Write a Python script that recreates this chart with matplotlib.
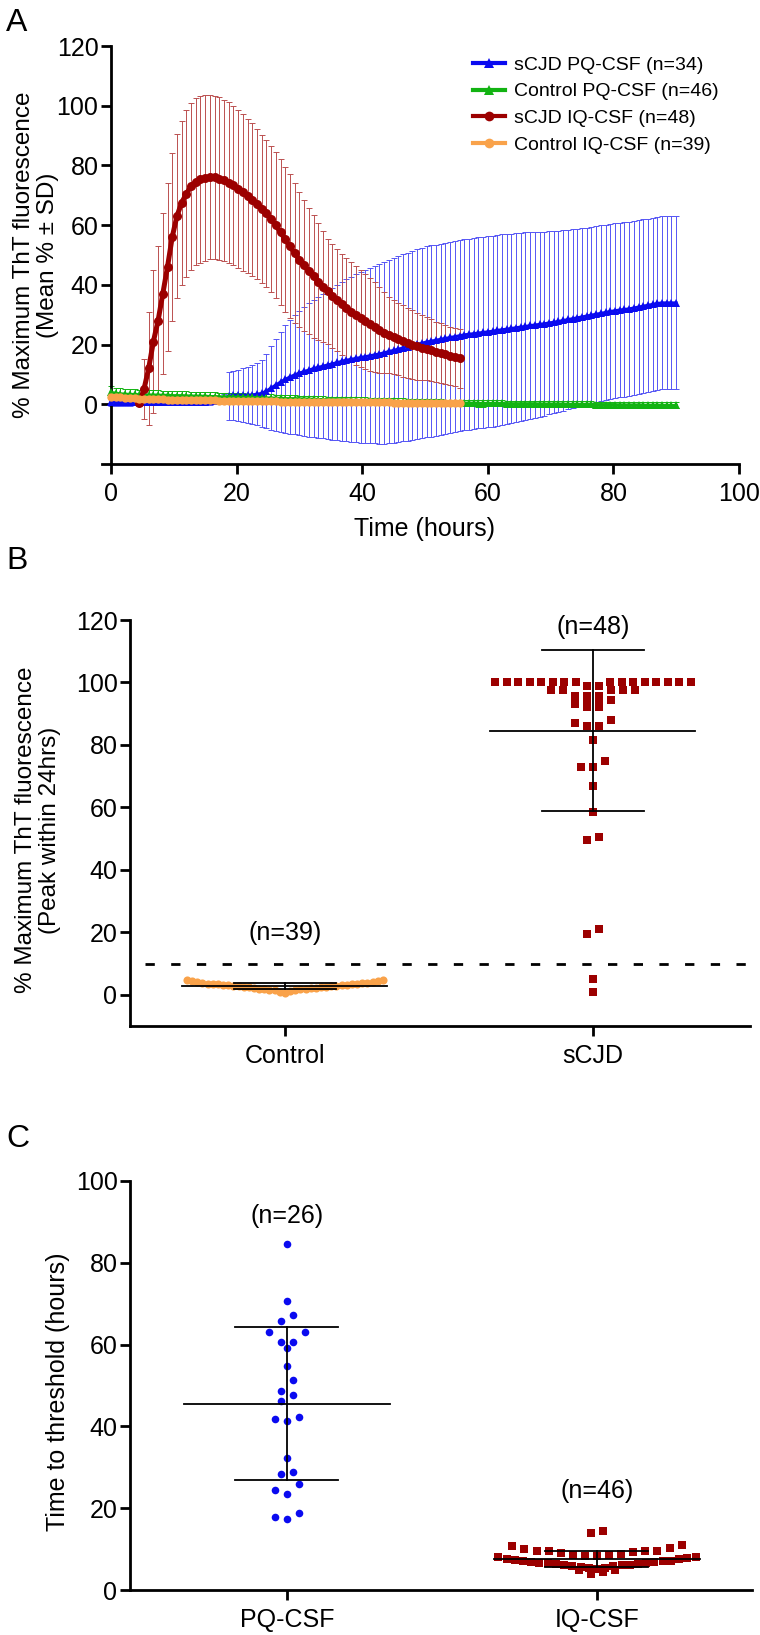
import numpy as np
import matplotlib
matplotlib.use('Agg')
import matplotlib.pyplot as plt
from matplotlib.lines import Line2D

plt.rcParams['font.family'] = ['Liberation Sans', 'DejaVu Sans']

# ---------------- DATA ----------------
# Panel A: readings every 0.75 h
read_interval_h = 0.75
scjd_iq_start_h = 4.5

scjd_pq_mean = [
    0.8, 0.8, 0.7, 0.7, 0.7, 0.7, 0.6, 0.6, 0.6, 0.6,
    0.6, 0.6, 0.6, 0.6, 0.6, 0.7, 0.7, 0.7, 0.8, 0.8,
    0.9, 1.0, 1.2, 1.5, 1.9, 2.8, 3.0, 3.0, 3.0, 3.1,
    3.2, 3.4, 3.7, 4.5, 5.5, 6.5, 7.5, 8.4, 9.2, 9.9,
    10.5, 11.0, 11.5, 12.0, 12.4, 12.8, 13.2, 13.6, 14.0, 14.4,
    14.8, 15.1, 15.4, 15.7, 16.0, 16.3, 16.6, 16.9, 17.3, 17.7,
    18.1, 18.5, 18.9, 19.3, 19.7, 20.1, 20.5, 20.9, 21.2, 21.5,
    21.8, 22.1, 22.4, 22.7, 23.0, 23.3, 23.5, 23.7, 23.9, 24.1,
    24.3, 24.5, 24.8, 25.0, 25.2, 25.4, 25.7, 25.9, 26.1, 26.4,
    26.6, 26.8, 27.0, 27.3, 27.5, 27.8, 28.1, 28.4, 28.7, 29.0,
    29.3, 29.6, 29.9, 30.2, 30.5, 30.8, 31.1, 31.4, 31.6, 31.8,
    32.0, 32.3, 32.6, 32.9, 33.2, 33.5, 33.8, 34.0, 34.0, 34.0,
    34.0]
scjd_pq_sd = [
    1.5, 1.4, 1.3, 1.2, 1.2, 1.1, 1.1, 1.0, 1.0, 1.0,
    1.0, 1.0, 1.0, 1.0, 1.0, 1.0, 1.0, 1.0, 1.0, 1.0,
    1.0, 1.1, 1.2, 1.3, 1.5, 8.0, 8.3, 8.6, 9.0, 9.4,
    9.8, 10.4, 11.2, 12.5, 14.0, 15.5, 16.8, 18.0, 19.0, 20.0,
    20.8, 21.6, 22.3, 23.0, 23.6, 24.2, 24.8, 25.4, 26.0, 26.6,
    27.1, 27.6, 28.1, 28.5, 28.9, 29.3, 29.7, 30.2, 30.5, 30.7,
    30.9, 31.1, 31.3, 31.5, 31.7, 31.8, 31.9, 32.0, 32.0, 32.0,
    32.0, 32.0, 32.0, 32.0, 32.0, 32.0, 32.0, 32.0, 32.0, 32.0,
    32.0, 32.0, 32.0, 32.0, 31.9, 31.8, 31.7, 31.6, 31.5, 31.3,
    31.1, 30.9, 30.8, 30.6, 30.5, 30.3, 30.2, 30.0, 29.9, 29.8,
    29.7, 29.6, 29.6, 29.5, 29.4, 29.4, 29.3, 29.3, 29.2, 29.2,
    29.1, 29.1, 29.1, 29.0, 29.0, 29.0, 29.0, 29.0, 29.0, 29.0,
    29.0]
ctrl_pq_mean = [
    4.0, 3.7, 3.5, 3.4, 3.3, 3.3, 3.2, 3.2, 3.1, 3.1,
    3.1, 3.0, 3.0, 2.9, 2.9, 2.9, 2.8, 2.8, 2.7, 2.7,
    2.7, 2.6, 2.6, 2.5, 2.5, 2.5, 2.4, 2.4, 2.4, 2.3,
    2.3, 2.2, 2.2, 2.1, 2.1, 2.0, 2.0, 1.9, 1.9, 1.9,
    1.8, 1.8, 1.7, 1.7, 1.6, 1.6, 1.5, 1.5, 1.5, 1.4,
    1.4, 1.3, 1.3, 1.2, 1.2, 1.1, 1.1, 1.1, 1.0, 1.0,
    1.0, 0.9, 0.9, 0.8, 0.8, 0.8, 0.7, 0.7, 0.7, 0.6,
    0.6, 0.5, 0.5, 0.5, 0.4, 0.4, 0.4, 0.4, 0.3, 0.3,
    0.3, 0.3, 0.3, 0.3, 0.2, 0.2, 0.2, 0.2, 0.2, 0.2,
    0.2, 0.1, 0.1, 0.1, 0.1, 0.1, 0.1, 0.0, 0.0, 0.0,
    0.0, 0.0, 0.0, -0.1, -0.1, -0.1, -0.1, -0.1, -0.2, -0.2,
    -0.2, -0.2, -0.2, -0.3, -0.3, -0.3, -0.3, -0.3, -0.4, -0.4,
    -0.4]
ctrl_pq_sd = [
    2.0, 1.9, 1.8, 1.8, 1.7, 1.7, 1.7, 1.6, 1.6, 1.6,
    1.6, 1.5, 1.5, 1.5, 1.5, 1.5, 1.5, 1.4, 1.4, 1.4,
    1.4, 1.4, 1.4, 1.4, 1.3, 1.3, 1.3, 1.3, 1.3, 1.3,
    1.3, 1.2, 1.2, 1.2, 1.2, 1.2, 1.2, 1.2, 1.2, 1.2,
    1.1, 1.1, 1.1, 1.1, 1.1, 1.1, 1.1, 1.1, 1.1, 1.1,
    1.1, 1.1, 1.1, 1.1, 1.1, 1.1, 1.1, 1.1, 1.1, 1.1,
    1.1, 1.1, 1.1, 1.1, 1.1, 1.1, 1.1, 1.1, 1.1, 1.1,
    1.1, 1.1, 1.1, 1.1, 1.1, 1.1, 1.1, 1.1, 1.1, 1.1,
    1.0, 1.0, 1.0, 1.0, 1.0, 1.0, 1.0, 1.0, 1.0, 1.0,
    1.0, 1.0, 1.0, 1.0, 1.0, 1.0, 1.0, 1.0, 1.0, 1.0,
    1.0, 1.0, 1.0, 1.0, 1.0, 1.0, 1.0, 1.0, 1.0, 1.0,
    1.0, 1.0, 1.0, 1.0, 1.0, 1.0, 1.0, 1.0, 1.0, 1.0,
    1.0]
scjd_iq_mean = [
    0.5, 5.0, 12.0, 21.0, 28.0, 37.0, 46.0, 56.0, 63.0, 67.5,
    70.5, 73.0, 74.5, 75.3, 75.8, 76.1, 76.0, 75.6, 75.0, 74.2,
    73.3, 72.2, 71.0, 69.8, 68.5, 67.0, 65.4, 63.9, 62.0, 60.0,
    57.6, 55.2, 53.0, 50.6, 48.4, 46.5, 44.6, 42.8, 41.0, 39.4,
    37.8, 36.3, 34.8, 33.5, 32.2, 31.0, 29.8, 28.8, 27.8, 26.8,
    25.8, 24.9, 24.0, 23.2, 22.4, 21.8, 21.2, 20.6, 20.0, 19.5,
    19.0, 18.6, 18.1, 17.6, 17.1, 16.7, 16.2, 15.8, 15.4]
scjd_iq_sd = [
    1.0, 10.0, 19.0, 24.0, 25.0, 27.0, 28.0, 28.0, 27.5, 27.5,
    28.0, 28.0, 28.0, 28.0, 27.7, 27.5, 27.3, 27.2, 27.0, 26.9,
    26.7, 26.5, 26.2, 25.9, 25.6, 25.2, 24.9, 24.6, 24.5, 24.5,
    24.4, 24.3, 24.2, 23.5, 22.6, 21.8, 21.2, 20.6, 19.6, 18.5,
    17.6, 17.3, 17.1, 17.0, 16.9, 16.7, 16.5, 16.3, 16.0, 15.6,
    15.0, 14.3, 13.6, 12.8, 12.4, 12.1, 11.9, 11.7, 11.5, 11.2,
    10.9, 10.6, 10.3, 10.1, 10.0, 9.9, 9.8, 9.8, 9.8]
ctrl_iq_mean = [
    2.6, 2.4, 2.3, 2.2, 2.1, 2.0, 1.9, 1.9, 1.8, 1.8,
    1.7, 1.7, 1.6, 1.6, 1.5, 1.5, 1.5, 1.4, 1.4, 1.4,
    1.3, 1.3, 1.3, 1.2, 1.2, 1.2, 1.2, 1.1, 1.1, 1.1,
    1.1, 1.0, 1.0, 1.0, 1.0, 1.0, 0.9, 0.9, 0.9, 0.9,
    0.9, 0.8, 0.8, 0.8, 0.8, 0.8, 0.8, 0.7, 0.7, 0.7,
    0.7, 0.7, 0.7, 0.6, 0.6, 0.6, 0.6, 0.6, 0.6, 0.6,
    0.5, 0.5, 0.5, 0.5, 0.5, 0.5, 0.5, 0.5, 0.4, 0.4,
    0.4, 0.4, 0.4, 0.4, 0.4]

legend_labels = ['sCJD PQ-CSF (n=34)', 'Control PQ-CSF (n=46)',
                 'sCJD IQ-CSF (n=48)', 'Control IQ-CSF (n=39)']

# Panel B: peak within 24 h
b_categories = ['Control', 'sCJD']
b_control = [0.5, 1.0, 1.2, 1.4, 1.5, 1.6, 1.7, 1.8, 1.9, 2.0,
             2.1, 2.2, 2.3, 2.4, 2.5, 2.5, 2.6, 2.7, 2.7, 2.8,
             2.9, 3.0, 3.0, 3.1, 3.2, 3.3, 3.3, 3.4, 3.5, 3.6,
             3.7, 3.8, 3.9, 4.0, 4.1, 4.3, 4.4, 4.6, 4.8]
b_scjd = [100, 100, 100, 100, 100, 100, 100, 100, 100, 100,
          100, 100, 100, 100, 100, 100, 99, 99, 97.5, 97.5,
          97.5, 97.5, 97.5, 95.7, 95.7, 95.7, 94.5, 93, 93, 93,
          92, 92, 88, 87, 86, 86, 81.5, 75, 73, 73,
          67, 58.5, 50.5, 49.5, 21, 19.5, 5, 1]
b_means = [2.8, 84.5]
b_sds = [0.95, 25.8]
b_n_labels = ['(n=39)', '(n=48)']
b_threshold = 10

# Panel C: time to threshold
c_categories = ['PQ-CSF', 'IQ-CSF']
c_pq = [84.5, 70.7, 67.2, 65.7, 63.2, 63.2, 60.7, 60.7, 59.2, 54.8,
        51.3, 48.7, 47.7, 46.3, 42.4, 41.7, 41.3, 32.3, 28.8, 28.3,
        25.8, 24.4, 23.4, 18.9, 17.8, 17.4]
c_iq = [14.5, 13.9, 11.0, 10.8, 10.2, 10.0, 9.6, 9.5, 9.5, 9.5,
        9.4, 9.0, 8.8, 8.6, 8.5, 8.4, 8.2, 8.0, 8.0, 7.8,
        7.6, 7.5, 7.4, 7.2, 7.0, 7.0, 6.9, 6.8, 6.7, 6.6,
        6.5, 6.4, 6.3, 6.2, 6.1, 6.0, 5.9, 5.8, 5.6, 5.5,
        5.4, 5.2, 5.0, 4.8, 4.5, 4.0]
c_means = [45.5, 7.6]
c_sds = [18.7, 2.05]
c_n_labels = ['(n=26)', '(n=46)']

# ---------------- STYLE ----------------
BLUE = '#0a0af0'
GREEN = '#12b312'
DRED = '#9c0000'
ORANGE = '#f9a24a'
BLUE_EB = '#5555f5'
RED_EB = '#bb5050'
FW, FH = 760, 1635

fig = plt.figure(figsize=(FW / 100, FH / 100), dpi=100)


def fx(px):
    return px / FW


def fy(py):
    return 1 - py / FH


def style_axes(ax):
    for s in ['top', 'right']:
        ax.spines[s].set_visible(False)
    for s in ['left', 'bottom']:
        ax.spines[s].set_linewidth(2.0)
    ax.tick_params(axis='both', which='major', width=2.0, length=7,
                   labelsize=18, direction='out', color='black')
    ax.tick_params(axis='y', pad=2)
    ax.tick_params(axis='x', pad=6)


# ---------------- PANEL A ----------------
axA = fig.add_axes([fx(102), fy(464), fx(739) - fx(102), fy(46) - fy(464)])
style_axes(axA)
axA.set_xlim(-1.43, 100)
axA.set_ylim(-20, 120)
axA.spines['left'].set_position(('data', 0))
axA.spines['left'].set_bounds(-20, 120)
axA.set_xticks([0, 20, 40, 60, 80, 100])
axA.set_yticks([0, 20, 40, 60, 80, 100, 120])

t_pq = np.arange(len(scjd_pq_mean)) * read_interval_h
t_ctrl_pq = np.arange(len(ctrl_pq_mean)) * read_interval_h
t_scjd_iq = scjd_iq_start_h + np.arange(len(scjd_iq_mean)) * read_interval_h
t_ctrl_iq = np.arange(len(ctrl_iq_mean)) * read_interval_h

eb_kw = dict(fmt='none', elinewidth=0.7, capsize=2.2, capthick=0.7)
axA.errorbar(t_pq, scjd_pq_mean, yerr=scjd_pq_sd, ecolor=BLUE_EB, zorder=1, **eb_kw)
axA.errorbar(t_scjd_iq, scjd_iq_mean, yerr=scjd_iq_sd, ecolor=RED_EB, zorder=1.5, **eb_kw)
axA.errorbar(t_ctrl_pq, ctrl_pq_mean, yerr=ctrl_pq_sd, ecolor=GREEN, zorder=2, **eb_kw)

axA.plot(t_pq, scjd_pq_mean, color=BLUE, lw=2.0, marker='^', ms=6, mew=0, zorder=3)
axA.plot(t_ctrl_pq, ctrl_pq_mean, color=GREEN, lw=2.2, marker='^', ms=6, mew=0, zorder=4)
axA.plot(t_scjd_iq, scjd_iq_mean, color=DRED, lw=3.6, marker='o', ms=6.5, mew=0, zorder=5)
axA.plot(t_ctrl_iq, ctrl_iq_mean, color=ORANGE, lw=3.6, marker='o', ms=6, mew=0, zorder=6)

handles = [
    Line2D([], [], color=BLUE, lw=3, marker='^', ms=7, mew=0),
    Line2D([], [], color=GREEN, lw=3, marker='^', ms=7, mew=0),
    Line2D([], [], color=DRED, lw=3, marker='o', ms=7, mew=0),
    Line2D([], [], color=ORANGE, lw=3, marker='o', ms=7, mew=0),
]
axA.legend(handles, legend_labels, loc='upper left',
           bbox_to_anchor=(fx(473), fy(56)), bbox_transform=fig.transFigure,
           frameon=False, fontsize=14, handlelength=1.65, handletextpad=0.45,
           labelspacing=0.47, borderpad=0, borderaxespad=0)

fig.text(fx(36), fy(255), '% Maximum ThT fluorescence\n(Mean % \u00b1 SD)',
         rotation=90, ha='center', va='center', fontsize=17.5, linespacing=1.08,
         multialignment='center')
fig.text(fx(425), fy(529), 'Time (hours)', ha='center', va='center', fontsize=18)


# ---------------- helpers for dot plots ----------------
def row_offsets(values, bin_h, spacing, max_width):
    v = np.asarray(values, dtype=float)
    order = list(np.argsort(-v, kind='stable'))
    offsets = np.zeros(len(v))
    i = 0
    while i < len(order):
        start = v[order[i]]
        grp = [order[i]]
        j = i + 1
        while j < len(order) and start - v[order[j]] < bin_h:
            grp.append(order[j])
            j += 1
        i = j
        n = len(grp)
        s = spacing if n <= 1 else min(spacing, max_width / (n - 1))
        slots = (np.arange(n) - (n - 1) / 2) * s
        slots = slots[np.argsort(np.abs(np.round(slots, 9)), kind='stable')]
        grp_sorted = sorted(grp, key=lambda k: v[k])
        for k, sl in zip(grp_sorted, slots):
            offsets[k] = sl
    return offsets


def mean_sd(ax, x, m, sd):
    ax.plot([x - 0.333, x + 0.333], [m, m], color='black', lw=1.3, zorder=5)
    ax.plot([x, x], [m - sd, m + sd], color='black', lw=1.3, zorder=5)
    ax.plot([x - 0.166, x + 0.166], [m + sd, m + sd], color='black', lw=1.3, zorder=5)
    ax.plot([x - 0.166, x + 0.166], [m - sd, m - sd], color='black', lw=1.3, zorder=5)


SPACING = 0.039
MAXW = 0.636

# ---------------- PANEL B ----------------
axB = fig.add_axes([fx(130), fy(1026), fx(750) - fx(130), fy(620) - fy(1026)])
style_axes(axB)
axB.set_xlim(-0.503, 1.51)
axB.set_ylim(-10, 120)
axB.set_yticks([0, 20, 40, 60, 80, 100, 120])
axB.set_xticks([0, 1])
axB.set_xticklabels(b_categories)

offc = row_offsets(b_control, 5.0, SPACING, MAXW)
axB.scatter(0 + offc, b_control, s=34, marker='o', color=ORANGE, linewidths=0, zorder=3)
offs = row_offsets(b_scjd, 2.5, SPACING, MAXW)
axB.scatter(1 + offs, b_scjd, s=27, marker='s', color=DRED, linewidths=0, zorder=3)
for xi, (m, sd) in enumerate(zip(b_means, b_sds)):
    mean_sd(axB, xi, m, sd)
axB.plot([-0.455, 1.51], [b_threshold, b_threshold], color='black', lw=2.0,
         linestyle=(0, (3.35, 5.9)), zorder=2, clip_on=False)
axB.text(0, 19.7, b_n_labels[0], ha='center', va='center', fontsize=18)
axB.text(1, 117.9, b_n_labels[1], ha='center', va='center', fontsize=18)

fig.text(fx(38), fy(830), '% Maximum ThT fluorescence\n(Peak within 24hrs)',
         rotation=90, ha='center', va='center', fontsize=17.5, linespacing=1.08,
         multialignment='center')

# ---------------- PANEL C ----------------
axC = fig.add_axes([fx(130), fy(1590), fx(752) - fx(130), fy(1181) - fy(1590)])
style_axes(axC)
axC.set_xlim(-0.506, 1.5)
axC.set_ylim(0, 100)
axC.set_yticks([0, 20, 40, 60, 80, 100])
axC.set_xticks([0, 1])
axC.set_xticklabels(c_categories)

offp = row_offsets(c_pq, 3.0, SPACING, MAXW)
axC.scatter(0 + offp, c_pq, s=30, marker='o', color=BLUE, linewidths=0, zorder=3)
offi = row_offsets(c_iq, 3.0, SPACING, MAXW)
axC.scatter(1 + offi, c_iq, s=27, marker='s', color=DRED, linewidths=0, zorder=3)
for xi, (m, sd) in enumerate(zip(c_means, c_sds)):
    mean_sd(axC, xi, m, sd)
axC.text(0, 91.4, c_n_labels[0], ha='center', va='center', fontsize=18)
axC.text(1, 24.3, c_n_labels[1], ha='center', va='center', fontsize=18)

fig.text(fx(58), fy(1392), 'Time to threshold (hours)', rotation=90,
         ha='center', va='center', fontsize=18)

# panel letters
fig.text(fx(6), fy(8), 'A', fontsize=23, ha='left', va='top')
fig.text(fx(6), fy(546), 'B', fontsize=23, ha='left', va='top')
fig.text(fx(6), fy(1124), 'C', fontsize=23, ha='left', va='top')

fig.savefig('out.png', dpi=100)
